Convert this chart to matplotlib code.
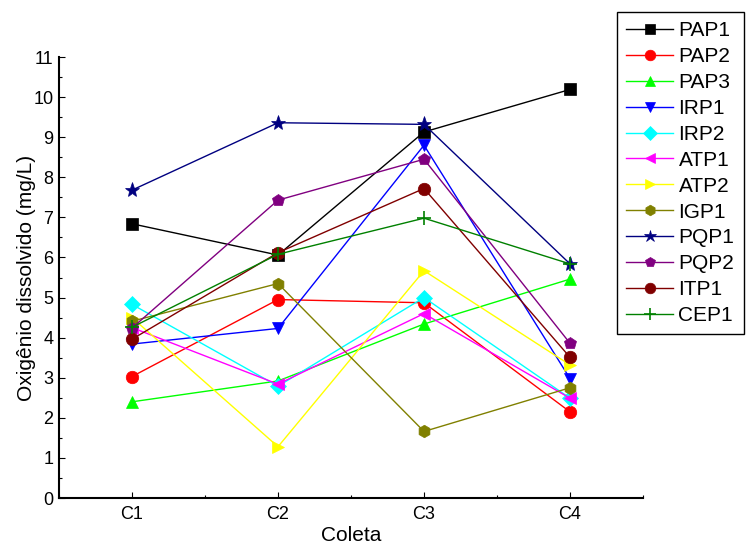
import matplotlib
matplotlib.use("Agg")
import matplotlib.pyplot as plt
from matplotlib.ticker import MultipleLocator

plt.rcParams['font.family'] = ['Liberation Sans', 'DejaVu Sans']

categories = ["C1", "C2", "C3", "C4"]
series_names = ["PAP1", "PAP2", "PAP3", "IRP1", "IRP2", "ATP1", "ATP2",
                "IGP1", "PQP1", "PQP2", "ITP1", "CEP1"]

PAP1 = [6.84, 6.06, 9.13, 10.19]
PAP2 = [3.03, 4.95, 4.87, 2.15]
PAP3 = [2.40, 2.92, 4.34, 5.46]
IRP1 = [3.84, 4.23, 8.80, 2.98]
IRP2 = [4.83, 2.79, 5.00, 2.49]
ATP1 = [4.25, 2.84, 4.60, 2.49]
ATP2 = [4.50, 1.28, 5.67, 3.32]
IGP1 = [4.41, 5.35, 1.66, 2.75]
PQP1 = [7.68, 9.36, 9.32, 5.84]
PQP2 = [4.24, 7.43, 8.45, 3.86]
ITP1 = [3.96, 6.12, 7.72, 3.51]
CEP1 = [4.26, 6.08, 6.98, 5.84]

values = [PAP1, PAP2, PAP3, IRP1, IRP2, ATP1, ATP2, IGP1, PQP1, PQP2, ITP1, CEP1]
colors = ["#000000", "#ff0000", "#00ff00", "#0000ff", "#00ffff", "#ff00ff",
          "#ffff00", "#808000", "#000080", "#800080", "#800000", "#008000"]
markers = ["s", "o", "^", "v", "D", "<", ">", "h", "*", "p", "o", "+"]
msizes = [8, 9, 9, 9, 8, 9, 9, 9, 11, 9, 9, 10]

fig = plt.figure(figsize=(7.48, 5.45), dpi=100)
ax = fig.add_axes([0.0789, 0.0862, 0.7807, 0.8092])

x = list(range(1, len(categories) + 1))
for name, vals, c, m, ms in zip(series_names, values, colors, markers, msizes):
    ax.plot(x, vals, color=c, marker=m, markersize=ms, linewidth=1.0,
            markerfacecolor=c, markeredgecolor=c,
            markeredgewidth=1.2 if m == "+" else 0.5, label=name)

ax.set_xlim(0.5, 4.5)
ax.set_ylim(0, 11)
ax.set_xticks(x)
ax.set_xticklabels(categories)
ax.xaxis.set_minor_locator(MultipleLocator(0.5))
ax.yaxis.set_major_locator(MultipleLocator(1))
ax.yaxis.set_minor_locator(MultipleLocator(0.5))
ax.tick_params(axis='y', which='major', direction='in', length=4, width=0.8,
               labelsize=13, pad=4)
ax.tick_params(axis='x', which='major', direction='in', length=4, width=0.8,
               labelsize=13, pad=6)
ax.tick_params(axis='both', which='minor', direction='in', length=2.5, width=0.8)
ax.spines['top'].set_visible(False)
ax.spines['right'].set_visible(False)
ax.spines['left'].set_linewidth(1.5)
ax.spines['bottom'].set_linewidth(1.5)

ax.set_xlabel("Coleta", fontsize=15, labelpad=2)
ax.set_ylabel("Oxigênio dissolvido (mg/L)", fontsize=15, labelpad=-2)

leg = fig.legend(loc='upper left', bbox_to_anchor=(617 / 748, 1 - 12 / 545),
                 bbox_transform=fig.transFigure, borderaxespad=0,
                 fontsize=15, numpoints=1, handlelength=2.25,
                 handletextpad=0.25, labelspacing=0.33, fancybox=False,
                 borderpad=0.45, framealpha=1, markerscale=0.85)
leg.get_frame().set_edgecolor('black')
leg.get_frame().set_linewidth(1.0)

fig.savefig("out.png", dpi=100)
